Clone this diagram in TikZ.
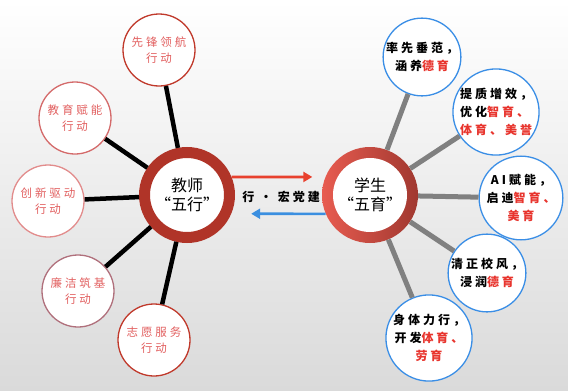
\documentclass[tikz,border=0pt]{standalone}
\usepackage{fontspec}
\setmainfont{Noto Sans CJK SC}
\newfontfamily\cjkwide[LetterSpace=25]{Noto Sans CJK SC}
\usetikzlibrary{arrows.meta}
\definecolor{ringred}{RGB}{176,52,40}
\definecolor{darkred}{RGB}{192,57,43}
\definecolor{rosered}{RGB}{212,106,106}
\definecolor{palered}{RGB}{226,140,140}
\definecolor{mauve}{RGB}{176,112,124}
\definecolor{txtpink}{RGB}{226,96,96}
\definecolor{hlred}{RGB}{232,53,46}
\definecolor{satblue}{RGB}{58,142,230}
\definecolor{linegray}{RGB}{128,128,128}
\definecolor{arrred}{RGB}{232,65,46}
\definecolor{arrblue}{RGB}{59,143,224}
\definecolor{bggray}{RGB}{218,218,218}
\definecolor{lightring}{RGB}{232,92,80}
\definecolor{deepring}{RGB}{160,56,48}
\newcommand{\hl}[1]{\textcolor{hlred}{#1}}
\tikzset{
  sat/.style={circle,draw,fill=white,line width=1.3pt,minimum size=72pt,inner sep=0pt,align=center},
  tsat/.style={sat,text=txtpink,font=\cjkwide\fontsize{11.5}{16.5}\selectfont},
  ssat/.style={sat,draw=satblue,font=\cjkwide\bfseries\fontsize{12}{18}\selectfont},
  tlink/.style={line width=4.5pt,black},
  slink/.style={line width=5pt,linegray},
  hub/.style={circle,inner sep=0pt,align=center,font=\fontsize{16}{19}\selectfont}
}

\begin{document}
\begin{tikzpicture}[x=1pt,y=-1pt]
  \shade[top color=white,bottom color=bggray] (0,0) rectangle (568,391);
  \useasboundingbox (0,0) rectangle (568,391);

  % teacher side
  \node[hub,draw=ringred,line width=11pt,fill=white,minimum size=85pt] (teacher) at (187,195) {教师\\“五行”};
  \node[tsat,draw=darkred] (tvan) at (159,50) {先锋领航\\行动};
  \node[tsat,draw=rosered] (tedu) at (75,118) {教育赋能\\行动};
  \node[tsat,draw=palered] (tinno) at (48,201) {创新驱动\\行动};
  \node[tsat,draw=mauve] (tclean) at (78,291) {廉洁筑基\\行动};
  \node[tsat,draw=darkred] (tvol) at (154,340) {志愿服务\\行动};
  \foreach \s in {tvan,tedu,tinno,tclean,tvol}
    \draw[tlink] (teacher) -- (\s);

  % student side
  \shade[left color=lightring,right color=deepring] (370,195) circle (48);
  \fill[white] (370,195) circle (37);
  \node[hub,minimum size=96pt] (student) at (370,195) {学生\\“五育”};
  \node[ssat] (sde) at (422,57) {率先垂范，\\涵养\hl{德育}};
  \node[ssat,minimum size=82pt,align=left] (szhi) at (496,112) {提质增效，\\优化\hl{智育、}\\\hl{体育、美誉}};
  \node[ssat] (sai) at (521,198) {AI赋能，\\启迪\hl{智育、}\\\hl{美育}};
  \node[ssat] (sfeng) at (487,273) {清正校风，\\浸润\hl{德育}};
  \node[ssat] (sti) at (429,338) {身体力行，\\开发\hl{体育、}\\\hl{劳育}};
  \foreach \s in {sde,szhi,sai,sfeng,sti}
    \draw[slink] (student) -- (\s);

  % arrows between the hubs
  \draw[arrred,line width=2.6pt,-{Triangle[length=9pt,width=10pt]}] (teacher.22) -- ([xshift=-13pt]student.158);
  \draw[arrblue,line width=2.6pt,-{Triangle[length=9pt,width=10pt]}] (student.203) -- ([xshift=20pt]teacher.-23);
  \node[font=\cjkwide\bfseries\fontsize{12}{14}\selectfont] (motto) at (281,197) {行 · 宏党建};
\end{tikzpicture}
\end{document}
